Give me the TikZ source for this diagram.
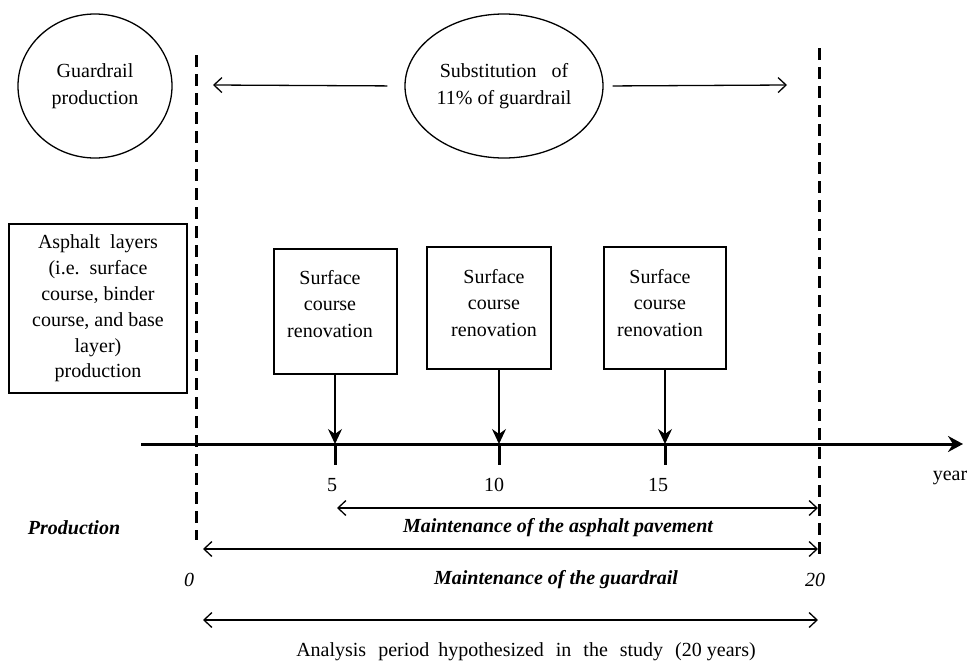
\documentclass[tikz,border=0pt]{standalone}
\usepackage{fontspec}
\setmainfont{Liberation Serif}
\usetikzlibrary{arrows.meta,shapes.geometric}
\begin{document}
\begin{tikzpicture}[x=1pt,y=-1pt,
  font=\fontsize{20}{26.5}\selectfont,
  line width=1.3pt,
  ell/.style={draw, ellipse, inner sep=0pt, align=center},
  boxnode/.style={draw, rectangle, inner sep=0pt, align=center},
  txt/.style={inner sep=0pt, align=center},
  bi/.style={inner sep=0pt, font=\fontsize{20}{26}\selectfont\bfseries\itshape},
  it/.style={inner sep=0pt, font=\fontsize{20}{26}\selectfont\itshape},
  barbtip/.tip={Straight Barb[length=8pt,width=15pt,line width=1.3pt]},
  span/.style={barbtip-barbtip, line width=1.3pt},
  onebarb/.style={-barbtip, line width=1.3pt},
  dropdown/.style={-{Stealth[length=15pt,width=14pt,inset=5pt]}, line width=1.3pt},
  dashline/.style={line width=3pt, dash pattern=on 12pt off 7pt},
  axisline/.style={line width=3pt, -{Stealth[length=15pt,width=16pt,inset=5pt]}},
  tickline/.style={line width=3pt}
]
\useasboundingbox (0,0) rectangle (970,662);

% top ellipses
\node[ell, minimum width=154pt, minimum height=144pt] (G) at (95,86) {Guardrail\\production};
\node[ell, minimum width=198pt, minimum height=144pt] (S) at (504,86) {Substitution\hspace{0.75em}of\\11\% of guardrail};
\coordinate (La) at (213,85);
\coordinate (Ra) at (787,85);
\draw[onebarb, shorten <=17pt] (S.west) -- (La);
\draw[onebarb, shorten <=9pt] (S.east) -- (Ra);

% dashed verticals
\coordinate (d0t) at (196,55);
\coordinate (d0b) at (196,540);
\coordinate (d20t) at (819,48);
\coordinate (d20b) at (819,560);
\draw[dashline] (d0t) -- (d0b);
\draw[dashline] (d20t) -- (d20b);

% asphalt box
\node[boxnode, minimum width=178pt, minimum height=169pt, font=\fontsize{20}{25.8}\selectfont] (A) at (98,308.5)
  {Asphalt\ \ layers\\(i.e.\ \ surface\\course, binder\\course, and base\\layer)\\production};

% surface course boxes
\node[boxnode, minimum width=123pt, minimum height=125pt] (b1) at (335.5,311.5) {};
\node[boxnode, minimum width=124pt, minimum height=122pt] (b2) at (489,308) {};
\node[boxnode, minimum width=122pt, minimum height=122pt] (b3) at (665,308) {};
\node[txt] (t1) at (330,304) {Surface\\course\\renovation};
\node[txt] (t2) at (494,303) {Surface\\course\\renovation};
\node[txt] (t3) at (660,303) {Surface\\course\\renovation};

% time axis
\coordinate (ax0) at (141,444);
\coordinate (ax1) at (963,444);
\draw[axisline] (ax0) -- (ax1);
\coordinate (k5) at (335,444);
\coordinate (k10) at (499,444);
\coordinate (k15) at (665,444);
\draw[tickline] (k5) -- ++(0,21);
\draw[tickline] (k10) -- ++(0,21);
\draw[tickline] (k15) -- ++(0,21);
\draw[dropdown] (b1.south -| k5) -- (k5);
\draw[dropdown] (b2.south -| k10) -- (k10);
\draw[dropdown] (b3.south -| k15) -- (k15);

\node[txt] (l5) at (332,485) {5};
\node[txt] (l10) at (494,485) {10};
\node[txt] (l15) at (658,485) {15};
\node[txt] (yr) at (950,478) {year};

% phase spans
\coordinate (ap0) at (337,508);
\coordinate (ap1) at (818,508);
\draw[span] (ap0) -- (ap1);
\node[bi] (prod) at (74,528) {Production};
\node[bi] (mas) at (558,528) {Maintenance of the asphalt pavement};

\coordinate (gr0) at (203,549);
\coordinate (gr1) at (818,549);
\draw[span] (gr0) -- (gr1);
\node[it] (y0) at (189,580) {0};
\node[bi] (mg) at (556,580) {Maintenance of the guardrail};
\node[it] (y20) at (815,580) {20};

\coordinate (an0) at (203,620);
\coordinate (an1) at (818,620);
\draw[span] (an0) -- (an1);
\node[txt] (an) at (526,652) {Analysis\hspace{0.6em}period\hspace{0.45em}hypothesized\hspace{0.6em}in\hspace{0.6em}the\hspace{0.6em}study\hspace{0.6em}(20 years)};
\end{tikzpicture}
\end{document}
